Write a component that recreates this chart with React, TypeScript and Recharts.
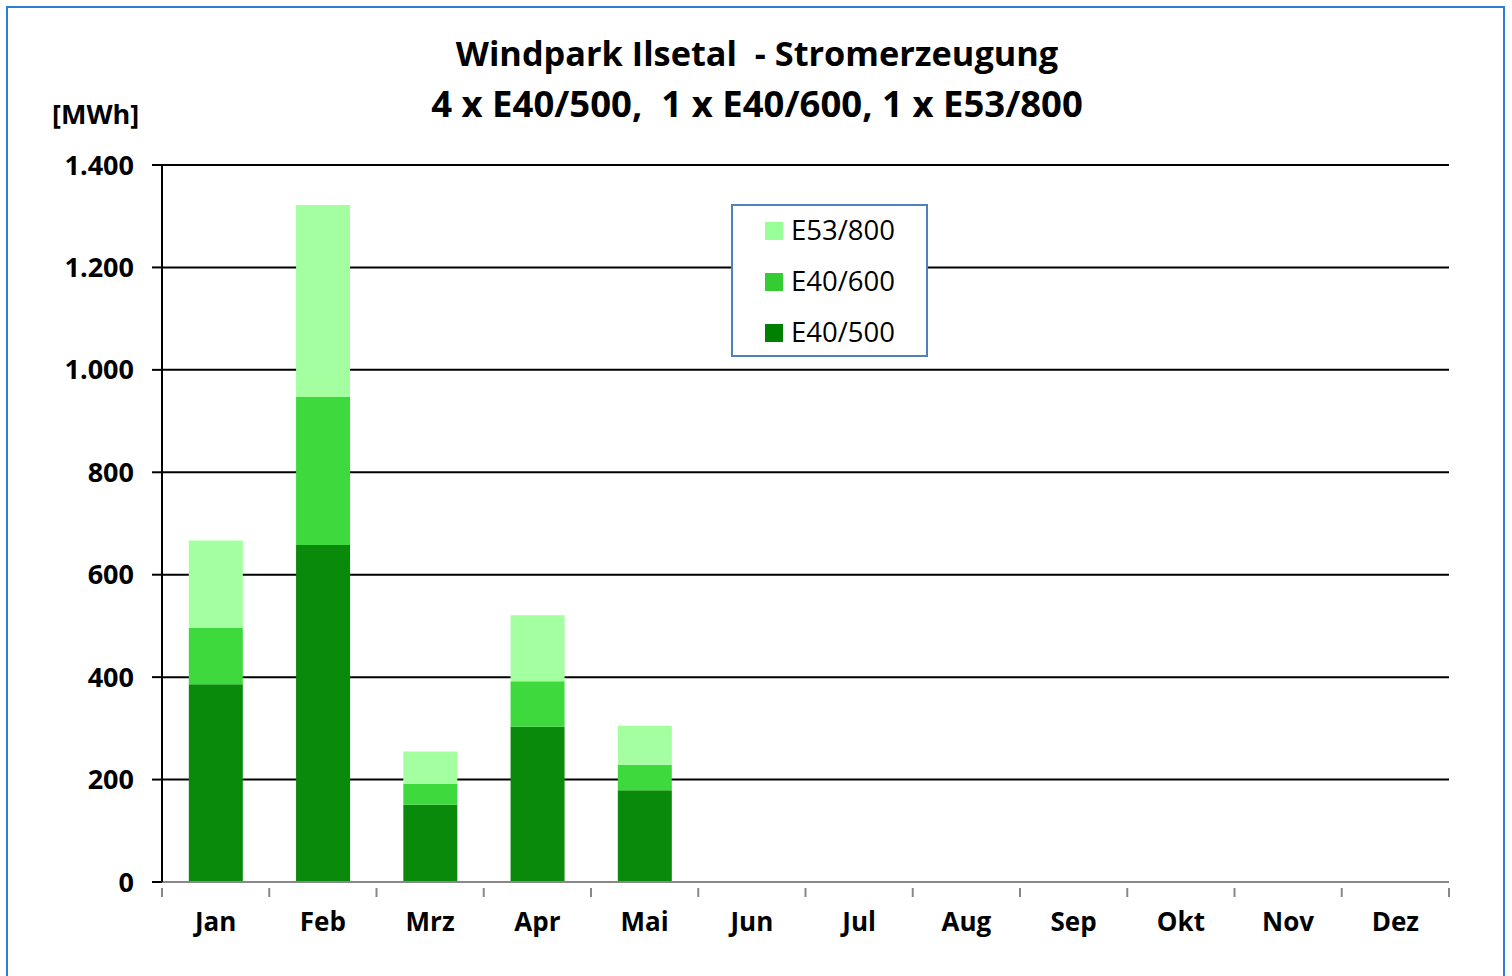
import React from "react";
import { BarChart, Bar, XAxis, YAxis, CartesianGrid } from "recharts";

const months = ["Jan", "Feb", "Mrz", "Apr", "Mai", "Jun", "Jul", "Aug", "Sep", "Okt", "Nov", "Dez"];
const e40_500 = [386, 658, 151, 303, 179, null, null, null, null, null, null, null];
const e40_600 = [110, 289, 41, 89, 50, null, null, null, null, null, null, null];
const e53_800 = [171, 375, 63, 129, 76, null, null, null, null, null, null, null];
const yTicks = [0, 200, 400, 600, 800, 1000, 1200, 1400];

const seriesInfo = [
  { key: "E53/800", swatch: "#99FF99" },
  { key: "E40/600", swatch: "#33CC33" },
  { key: "E40/500", swatch: "#008000" },
];

const data = months.map((m, i) => ({
  month: m,
  "E40/500": e40_500[i],
  "E40/600": e40_600[i],
  "E53/800": e53_800[i],
}));

const FONT = "'Open Sans', 'DejaVu Sans', sans-serif";

const fmt = (v: number) => v.toLocaleString("de-DE");

const MonthTick = (props: any) => {
  const { x, y, payload, index, visibleTicksCount } = props;
  const half = payload && payload.offset ? payload.offset : 0;
  const axisY = y - 12;
  return (
    <g>
      <line x1={x - half} x2={x - half} y1={axisY} y2={axisY + 9} stroke="#888" strokeWidth={2} />
      {index === visibleTicksCount - 1 && (
        <line x1={x + half} x2={x + half} y1={axisY} y2={axisY + 9} stroke="#888" strokeWidth={2} />
      )}
      <text
        x={x}
        y={y + 31}
        textAnchor="middle"
        fontFamily={FONT}
        fontWeight={700}
        fontSize={26}
        fill="#000"
      >
        {payload.value}
      </text>
    </g>
  );
};

const LegendBox = () => (
  <div
    style={{
      position: "absolute",
      left: 731,
      top: 204,
      border: "2px solid #4F81BD",
      background: "#fff",
      width: 197,
      height: 153,
      boxSizing: "border-box",
      padding: "0 0 0 32px",
      fontFamily: FONT,
      fontSize: 27.5,
      color: "#000",
    }}
  >
    {seriesInfo.map((s) => (
      <div key={s.key} style={{ display: "flex", alignItems: "center", height: 51, marginTop: -2, marginBottom: 2 }}>
        <div style={{ width: 18, height: 18, background: s.swatch, marginRight: 8, marginTop: 2 }} />
        <span>{s.key}</span>
      </div>
    ))}
  </div>
);

export default function App() {
  return (
    <div style={{ position: "absolute", left: 0, top: 0, width: 1512, height: 976, background: "#fff" }}>
      <div
        style={{
          position: "absolute",
          left: 6,
          top: 6,
          width: 1499,
          height: 972,
          border: "2px solid #2F7FD0",
          boxSizing: "border-box",
        }}
      />
      <div
        style={{
          position: "absolute",
          left: 0,
          top: 28,
          width: 1512,
          textAlign: "center",
          fontFamily: FONT,
          fontWeight: 700,
          color: "#000",
        }}
      >
        <div style={{ fontSize: 34.3, lineHeight: "50px", paddingLeft: 2 }}>Windpark Ilsetal&nbsp; - Stromerzeugung</div>
        <div style={{ fontSize: 36.5, lineHeight: "50px", paddingLeft: 2 }}>4 x E40/500,&nbsp; 1 x E40/600, 1 x E53/800</div>
      </div>
      <div
        style={{
          position: "absolute",
          left: 52,
          top: 95,
          fontFamily: FONT,
          fontWeight: 700,
          fontSize: 27,
          color: "#000",
        }}
      >
        [MWh]
      </div>
      <div style={{ position: "absolute", left: 0, top: 0 }}>
        <BarChart
          width={1512}
          height={976}
          data={data}
          margin={{ top: 165, right: 63, bottom: 44, left: 62 }}
          barCategoryGap="25%"
        >
          <CartesianGrid horizontal={true} vertical={false} stroke="#000" strokeWidth={2} />
          <XAxis
            dataKey="month"
            height={50}
            axisLine={{ stroke: "#888", strokeWidth: 2 }}
            tickLine={false}
            tick={<MonthTick />}
            tickMargin={12}
            interval={0}
          />
          <YAxis
            domain={[0, 1400]}
            ticks={yTicks}
            width={100}
            tickFormatter={fmt}
            axisLine={{ stroke: "#000", strokeWidth: 2 }}
            tickLine={{ stroke: "#000", strokeWidth: 2 }}
            tickSize={10}
            tickMargin={18}
            tick={{ fontFamily: FONT, fontWeight: 700, fontSize: 27, fill: "#000" }}
            interval={0}
          />
          <YAxis
            yAxisId="r"
            orientation="right"
            domain={[0, 1400]}
            width={0}
            tick={false}
            tickLine={false}
            axisLine={{ stroke: "#000", strokeWidth: 2 }}
          />
          <Bar dataKey="E40/500" stackId="a" fill="#0A8A0A" isAnimationActive={false} />
          <Bar dataKey="E40/600" stackId="a" fill="#3DD93D" isAnimationActive={false} />
          <Bar dataKey="E53/800" stackId="a" fill="#A3FFA0" isAnimationActive={false} />
        </BarChart>
      </div>
      <LegendBox />
    </div>
  );
}
